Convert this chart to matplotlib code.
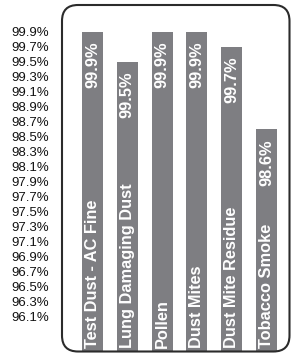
#!/usr/bin/env python3
# Filter efficiency chart - vertical bars with labels inside
import matplotlib
matplotlib.use("Agg")
from matplotlib import pyplot as plt
from matplotlib.patches import FancyBboxPatch

##################---------Data---------########################################
categories = ["Test Dust - AC Fine", "Lung Damaging Dust", "Pollen",
              "Dust Mites", "Dust Mite Residue", "Tobacco Smoke"]
efficiency = [99.9, 99.5, 99.9, 99.9, 99.7, 98.6]
tick_values = [99.9, 99.7, 99.5, 99.3, 99.1, 98.9, 98.7, 98.5, 98.3, 98.1,
               97.9, 97.7, 97.5, 97.3, 97.1, 96.9, 96.7, 96.5, 96.3, 96.1]
tick_labels = ["99.9%", "99.7%", "99.5%", "99.3%", "99.1%", "98.9%", "98.7%",
               "98.5%", "98.3%", "98.1%", "97.9%", "97.7%", "97.5%", "97.3%",
               "97.1%", "96.9%", "96.7%", "96.5%", "96.3%", "96.1%"]
value_labels = ["99.9%", "99.5%", "99.9%", "99.9%", "99.7%", "98.6%"]

BAR_COLOR = "#7e7e82"
YMIN, YMAX = 95.633, 100.26

plt.rcParams['font.family'] = ['Liberation Sans', 'DejaVu Sans']

fig = plt.figure(figsize=(2.91, 3.56), dpi=100)
ax = fig.add_axes([62/291, 4/356, 228/291, 347/356])

x = list(range(len(categories)))
ax.bar(x, [v - YMIN for v in efficiency], bottom=YMIN, width=0.6,
       color=BAR_COLOR, zorder=2)

for i, (cat, lab, v) in enumerate(zip(categories, value_labels, efficiency)):
    ax.annotate(cat, (i, YMIN), xytext=(0, 4), textcoords="offset pixels",
                rotation=90, ha="center", va="bottom", color="white",
                fontsize=11.8, fontweight="bold", zorder=3)
    ax.annotate(lab, (i, v), xytext=(0, -10), textcoords="offset pixels",
                rotation=90, ha="center", va="top", color="white",
                fontsize=11.8, fontweight="bold", zorder=3)

ax.set_xlim(-0.876, 5.675)
ax.set_ylim(YMIN, YMAX)
ax.set_xticks([])
ax.set_yticks(tick_values)
ax.set_yticklabels(tick_labels, fontsize=9.5, color="#111111")
ax.tick_params(axis="y", length=0, pad=9.4)
for s in ax.spines.values():
    s.set_visible(False)
ax.patch.set_alpha(0)

# rounded frame round the plot area
frame = FancyBboxPatch((0.62, 0.045), 2.275, 3.465,
                       boxstyle="round,pad=0,rounding_size=0.16",
                       transform=fig.dpi_scale_trans, fill=False,
                       edgecolor="#2b2b2b", linewidth=1.5, zorder=5)
fig.patches.append(frame)

fig.savefig("out.png", dpi=100)
